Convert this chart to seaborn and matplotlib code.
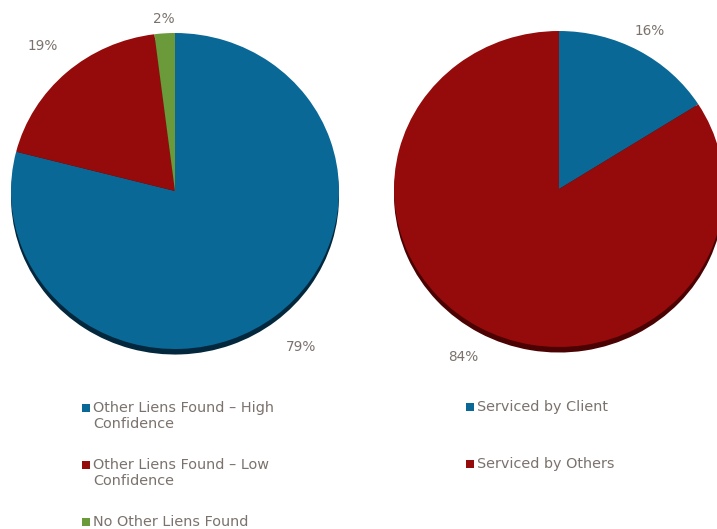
import matplotlib
matplotlib.use("Agg")
import matplotlib.pyplot as plt
import matplotlib.patches as mpatches
import seaborn as sns
import numpy as np

# Left pie: result of the lien search
lien_labels = [
    "Other Liens Found – High\nConfidence",
    "Other Liens Found – Low\nConfidence",
    "No Other Liens Found",
]
lien_values = [79, 19, 2]

# Right pie: who services the loan
servicer_labels = ["Serviced by Client", "Serviced by Others"]
servicer_values = [16, 84]

BLUE = "#0A6897"
RED = "#950A0A"
GREEN = "#6A9A3A"
SHADOW = {BLUE: "#03283D", RED: "#4A0202", GREEN: "#2E4A18"}
TEXT = "#7B726D"

sns.set_theme(style="white")
plt.rcParams["font.family"] = ["DejaVu Sans"]

W, H = 717, 529
fig = plt.figure(figsize=(W / 100, H / 100), dpi=100)


def pie_axes(cx, cy, rx=164, ry=158):
    # axes covers +-1.25 data units around the pie centre (pixels in, fractions out)
    w, h = 2.5 * rx, 2.5 * ry
    return fig.add_axes([(cx - w / 2) / W, (H - cy - h / 2) / H, w / W, h / H])


def draw_pie(ax, values, colors, label_r):
    # dark copy slightly lower = the 3d rim at the bottom
    ax.pie(values, colors=[SHADOW[c] for c in colors], startangle=90,
           counterclock=False, center=(0, -0.035), wedgeprops=dict(linewidth=0))
    wedges, _, autotexts = ax.pie(values, colors=colors, startangle=90,
                                  counterclock=False, autopct=lambda p: f"{p:.0f}%",
                                  wedgeprops=dict(linewidth=0))
    for w, t, r in zip(wedges, autotexts, label_r):
        ang = np.deg2rad((w.theta1 + w.theta2) / 2)
        t.set_position((r * np.cos(ang), r * np.sin(ang)))
        t.set_color(TEXT)
        t.set_fontsize(9.8)
    ax.set_aspect("auto")
    ax.set_xlim(-1.25, 1.25)
    ax.set_ylim(-1.25, 1.25)
    ax.axis("off")


def draw_legend(x_marker, y_first, labels, colors, pitch=57):
    for i, (lab, col) in enumerate(zip(labels, colors)):
        yc = y_first + i * pitch
        fig.patches.append(mpatches.Rectangle(
            (x_marker / W, (H - yc - 4) / H), 8 / W, 8 / H,
            transform=fig.transFigure, figure=fig, color=col, linewidth=0))
        fig.text((x_marker + 11) / W, (H - yc + 7) / H, lab, color=TEXT,
                 fontsize=10.4, va="top", ha="left", linespacing=1.15)


ax1 = pie_axes(175, 191)
draw_pie(ax1, lien_values, [BLUE, RED, GREEN], [1.25, 1.22, 1.09])

ax2 = pie_axes(559, 189, rx=165)
draw_pie(ax2, servicer_values, [BLUE, RED], [1.14, 1.21])

draw_legend(82, 408, lien_labels, [BLUE, RED, GREEN])
draw_legend(466, 407, servicer_labels, [BLUE, RED])

fig.savefig("out.png", dpi=100)
